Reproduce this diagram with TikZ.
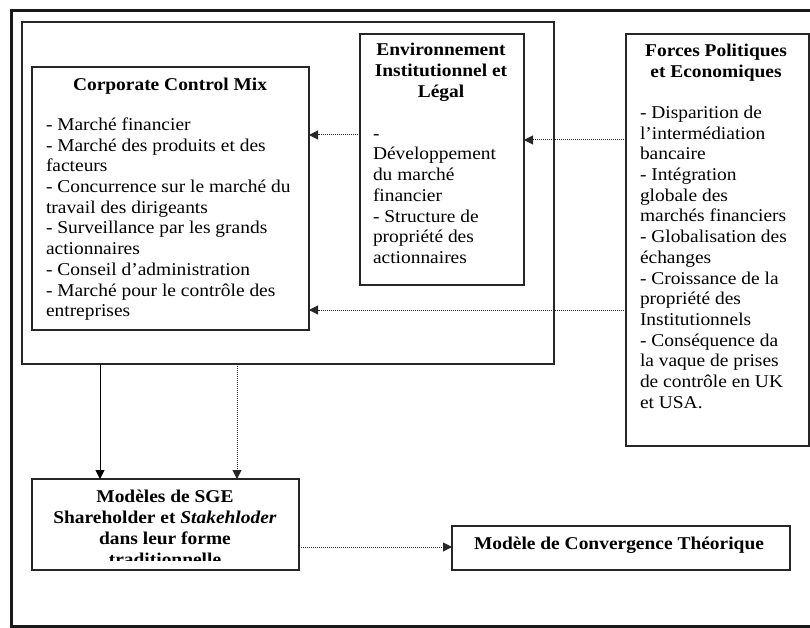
\documentclass[tikz,border=0pt]{standalone}
\usepackage{fontspec}
\setmainfont{Liberation Serif}[FakeStretch=1.08]
\usetikzlibrary{arrows.meta}
\begin{document}
\begin{tikzpicture}[x=1pt,y=-1pt,
  box/.style={draw=black!85, line width=1.2pt, anchor=north west, inner sep=0pt, outer sep=0pt},
  txt/.style={anchor=north west, inner sep=0pt, outer sep=0pt, align=left, font=\fontsize{18}{20.7}\selectfont},
  ttl/.style={anchor=north, inner sep=0pt, outer sep=0pt, align=center, font=\fontsize{18}{20.7}\selectfont\bfseries},
  dotarrow/.style={draw=black!85, line width=1pt, dash pattern=on 1pt off 1pt, -{Triangle[length=9pt,width=9pt]}},
  solarrow/.style={draw=black, line width=1pt, -{Triangle[length=9pt,width=9pt]}}]
\useasboundingbox (0,0) rectangle (810,628);
\clip (0,0) rectangle (810,628);
\fill[white] (0,0) rectangle (810,628);
% outer frame (right side beyond the picture)
\draw[line width=3pt, black!90] (11.5,11) rectangle (830,626);
% boxes
\node[box, minimum width=532pt, minimum height=342pt] (ctr) at (22,22) {};
\node[box, minimum width=277pt, minimum height=263pt] (ccm) at (32,67) {};
\node[box, minimum width=164pt, minimum height=251pt] (env) at (360,34) {};
\node[box, minimum width=183pt, minimum height=412pt] (forces) at (626,34) {};
\node[box, minimum width=338pt, minimum height=44pt] (conv) at (452,526) {};
% texts
\node[ttl] (ccmT) at (170,76.5) {\strut Corporate Control Mix};
\node[txt] (ccmB) at (46,116) {\strut - Marché financier\\
- Marché des produits et des\\
facteurs\\
- Concurrence sur le marché du\\
travail des dirigeants\\
- Surveillance par les grands\\
actionnaires\\
- Conseil d’administration\\
- Marché pour le contrôle des\\
entreprises};
\node[ttl] (envT) at (441,41.5) {\strut Environnement\\Institutionnel et\\Légal};
\node[txt] (envB) at (373,124.8) {\strut -\\
Développement\\
du marché\\
financier\\
- Structure de\\
propriété des\\
actionnaires};
\node[ttl] (forT) at (716,42) {\strut Forces Politiques\\et Economiques};
\node[txt] (forB) at (640,104) {\strut - Disparition de\\
l’intermédiation\\
bancaire\\
- Intégration\\
globale des\\
marchés financiers\\
- Globalisation des\\
échanges\\
- Croissance de la\\
propriété des\\
Institutionnels\\
- Conséquence da\\
la vaque de prises\\
de contrôle en UK\\
et USA.};
\begin{scope}
\clip (32,479) rectangle (299,560.5);
\node[ttl] (sgeT) at (165,488.5) {\strut Modèles de SGE\\Shareholder et \textit{Stakehloder}\\dans leur forme\\traditionnelle};
\end{scope}
\node[box, minimum width=267pt, minimum height=91pt] (sge) at (32,479) {};
\node[ttl] (convT) at (619,535.5) {\strut Modèle de Convergence Théorique};
% connectors
\coordinate (ya) at (0,135);
\coordinate (yb) at (0,140);
\coordinate (yc) at (0,310);
\coordinate (yd) at (0,547);
\coordinate (xa) at (100,0);
\coordinate (xb) at (237,0);
\draw[dotarrow] (env.west |- ya) -- (ccm.east |- ya);
\draw[dotarrow] (forces.west |- yb) -- (env.east |- yb);
\draw[dotarrow] (forces.west |- yc) -- (ccm.east |- yc);
\draw[solarrow] (ctr.south -| xa) -- (sge.north -| xa);
\draw[dotarrow] (ctr.south -| xb) -- (sge.north -| xb);
\draw[dotarrow] (sge.east |- yd) -- (conv.west |- yd);
\end{tikzpicture}
\end{document}
